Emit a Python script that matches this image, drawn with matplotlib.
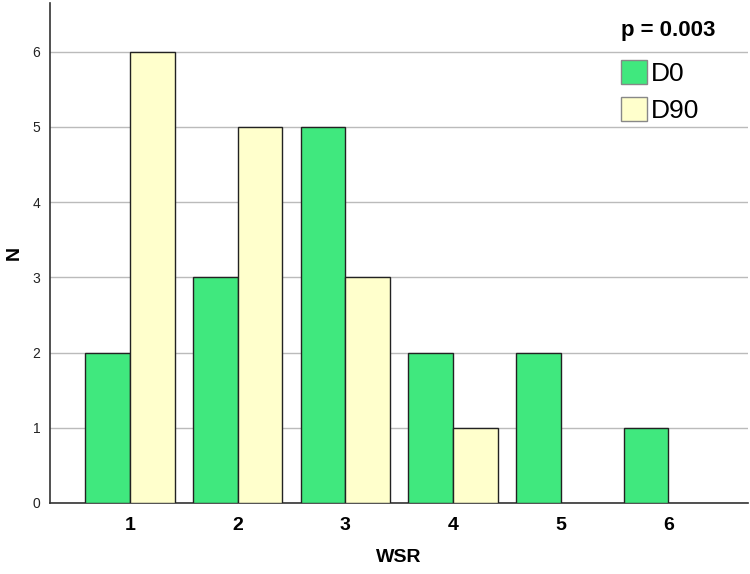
import numpy as np
from matplotlib import pyplot as plt
from matplotlib.patches import Patch

# ---------------------------------------------- #
# Data
# ---------------------------------------------- #
wsr = [1, 2, 3, 4, 5, 6]
d0 = [2, 3, 5, 2, 2, 1]
d90 = [6, 5, 3, 1, 0, 0]
series_names = ['D0', 'D90']
p_text = 'p = 0.003'

green = '#40E87E'
yellow = '#FFFFCC'

plt.rcParams['font.family'] = ['Liberation Sans', 'DejaVu Sans']

fig = plt.figure(figsize=(7.5, 5.74), dpi=100)
ax = fig.add_axes([0.0667, 0.1237, 0.9306, 0.8713])

x = np.array(wsr, dtype=float)
w = 0.415
ax.bar(x - w / 2, d0, width=w, color=green, edgecolor='#222222', linewidth=1.0, zorder=3)
for xi, v in zip(x, d90):
    if v > 0:
        ax.bar(xi + w / 2, v, width=w, color=yellow, edgecolor='#222222', linewidth=1.0, zorder=3)

ax.set_xlim(0.257, 6.74)
ax.set_ylim(0, 6.65)
ax.set_yticks(range(0, 7))
ax.set_xticks(wsr)
ax.yaxis.grid(True, color='#BBBBBB', linewidth=1.0, zorder=0)
ax.set_axisbelow(True)

for s in ['top', 'right']:
    ax.spines[s].set_visible(False)
for s in ['left', 'bottom']:
    ax.spines[s].set_color('#333333')
    ax.spines[s].set_linewidth(1.2)

ax.tick_params(axis='x', length=0, pad=10, labelsize=14)
ax.tick_params(axis='y', length=0, pad=7, labelsize=10, labelcolor='#222222')
for lbl in ax.get_xticklabels():
    lbl.set_fontweight('bold')

ax.set_xlabel('WSR', fontsize=14, fontweight='bold', labelpad=11)
ax.set_ylabel('N', fontsize=14, fontweight='bold', labelpad=7)

# p-value and legend
fig.text(0.954, 0.947, p_text, ha='right', va='center', fontsize=16, fontweight='bold')
handles = [Patch(facecolor=green, edgecolor='#888888', label=series_names[0]),
           Patch(facecolor=yellow, edgecolor='#888888', label=series_names[1])]
ax.legend(handles=handles, loc='upper left', bbox_to_anchor=(0.818, 0.886),
          frameon=False, fontsize=19, handlelength=1.0, handleheight=1.05,
          handletextpad=0.12, labelspacing=0.4, borderaxespad=0, borderpad=0)

plt.savefig('out.png', dpi=100)
